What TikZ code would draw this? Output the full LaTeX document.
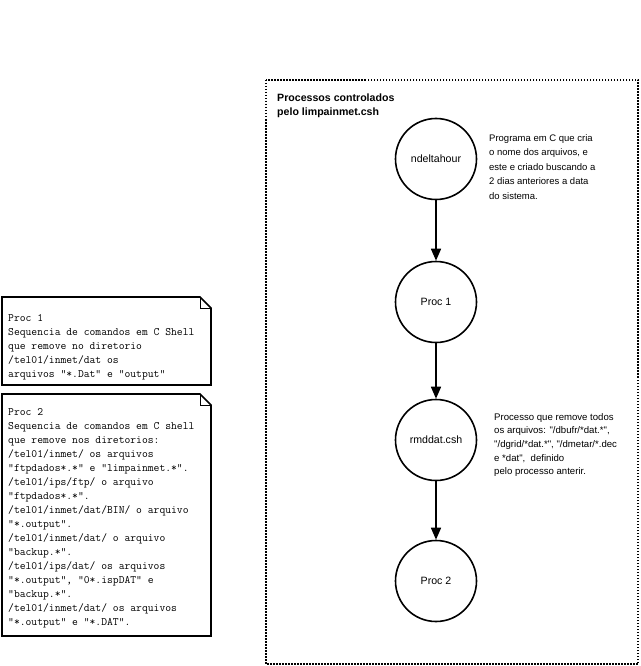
\documentclass[tikz,border=0pt]{standalone}
\usepackage{fontspec}
\newfontfamily\sansf{Liberation Sans}
\usetikzlibrary{arrows.meta}
\newcommand{\mlines}[1]{\vtop{\halign{##\hfil\cr#1\crcr}}}
\begin{document}
\begin{tikzpicture}[x=1pt,y=-1pt,
  proc/.style={circle,draw,line width=1.6pt,minimum size=81pt,inner sep=0pt,
    font=\sansf\fontsize{10.6}{12}\selectfont},
  flow/.style={line width=1.6pt,-{Triangle[length=12pt,width=10pt]}},
  notebox/.style={line width=1.6pt,line join=miter},
  frame/.style={line width=1.5pt,dash pattern=on 1.5pt off 1.5pt},
  monotext/.style={anchor=base west,inner sep=0pt,font=\ttfamily\fontsize{11.3}{14}\selectfont},
  anntext/.style={anchor=base west,inner sep=0pt},
]
\useasboundingbox (0,0) rectangle (640,666);
\draw[frame] (266,80) rectangle (638,664);

\node[anntext,font=\sansf\bfseries\fontsize{10.6}{13.5}\selectfont] (title) at (277,102)
  {\mlines{Processos controlados\cr pelo limpainmet.csh}};

\node[proc] (nd) at (436,159) {ndeltahour};
\node[proc] (p1) at (436,302) {Proc 1};
\node[proc] (rm) at (436,440) {rmddat.csh};
\node[proc] (p2) at (436,581) {Proc 2};

\draw[flow] (nd) -- (p1);
\draw[flow] (p1) -- (rm);
\draw[flow] (rm) -- (p2);

\node[anntext,font=\sansf\fontsize{9.5}{14.5}\selectfont] (ndtext) at (489,141)
  {\mlines{Programa em C que cria\cr o nome dos arquivos, e\cr este e criado buscando a\cr 2 dias anteriores a data\cr do sistema.}};

\node[anntext,font=\sansf\fontsize{9.6}{13.7}\selectfont] (rmtext) at (494,420)
  {\mlines{Processo que remove todos\cr os arquivos: "/dbufr/*dat.*",\cr "/dgrid/*dat.*", "/dmetar/*.dec\cr e *dat",\ \ definido\cr pelo processo anterir.}};

% notes
\draw[notebox] (2,297) -- (200,297) -- (211,308) -- (211,385) -- (2,385) -- cycle;
\draw[line width=1pt] (200,297) -- (200,308) -- (211,308);
\node[monotext] (n1) at (8,321)
  {\mlines{Proc 1\cr Sequencia de comandos em C Shell\cr que remove no diretorio\cr /tel01/inmet/dat os\cr arquivos "*.Dat" e "output"}};

\draw[notebox] (2,394) -- (200,394) -- (211,405) -- (211,636) -- (2,636) -- cycle;
\draw[line width=1pt] (200,394) -- (200,405) -- (211,405);
\node[monotext] (n2) at (8,415)
  {\mlines{Proc 2\cr Sequencia de comandos em C shell\cr que remove nos diretorios:\cr /tel01/inmet/ os arquivos\cr "ftpdados*.*" e "limpainmet.*".\cr /tel01/ips/ftp/ o arquivo\cr "ftpdados*.*".\cr /tel01/inmet/dat/BIN/ o arquivo\cr "*.output".\cr /tel01/inmet/dat/ o arquivo\cr "backup.*".\cr /tel01/ips/dat/ os arquivos\cr "*.output", "0*.ispDAT" e\cr "backup.*".\cr /tel01/inmet/dat/ os arquivos\cr "*.output" e "*.DAT".}};
\end{tikzpicture}
\end{document}
